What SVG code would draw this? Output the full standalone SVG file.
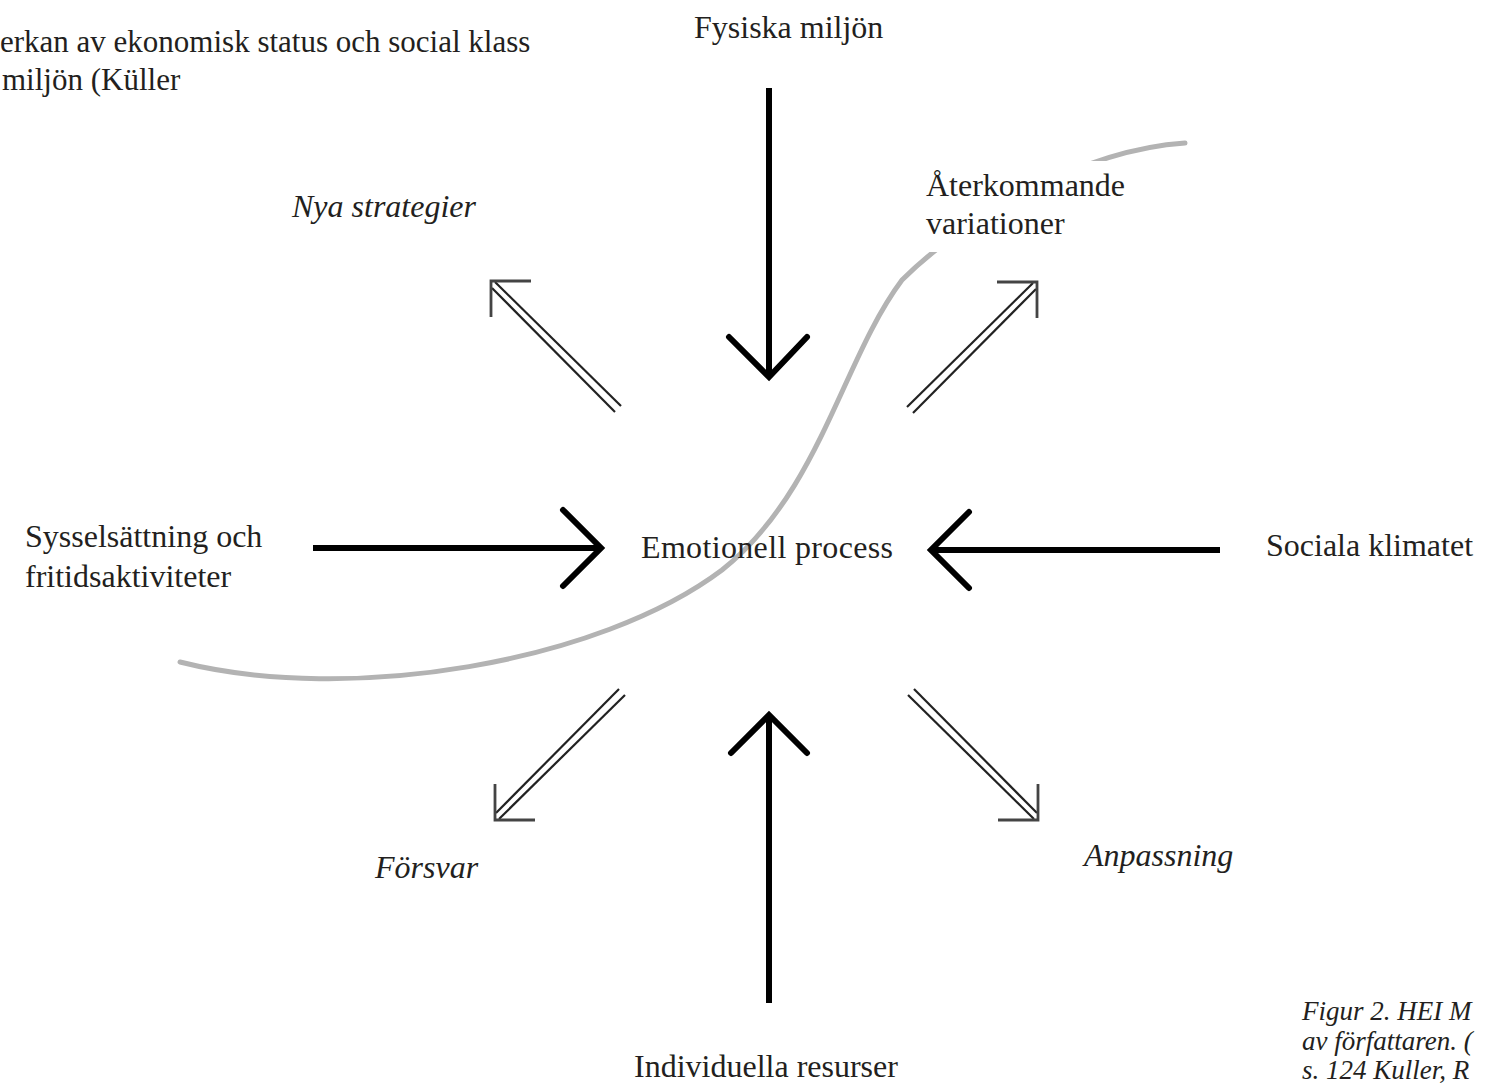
<svg xmlns="http://www.w3.org/2000/svg" width="1493" height="1086" viewBox="0 0 1493 1086">
<style>
.t{font-family:"Liberation Serif","Times New Roman",serif;font-size:32px;fill:#231f20}
.i{font-style:italic}
.cap{font-size:27px}
.top{font-size:31px}
.bold{stroke:#000;stroke-width:6;fill:none}
.chev{stroke:#000;stroke-width:6;fill:none;stroke-linecap:round;stroke-linejoin:miter}
.dl{stroke:#222;stroke-width:2.2;fill:none}
.hd{stroke:#444;stroke-width:2.8;fill:none}
.curve{stroke:#b3b3b3;stroke-width:5;fill:none;stroke-linecap:round}
</style>
<defs>
<g id="dbl">
<line class="dl" x1="-130" y1="125" x2="-4" y2="1"/>
<line class="dl" x1="-124" y1="131" x2="-1" y2="7"/>
<polyline class="hd" points="-40,0 0,0 0,36"/>
</g>
</defs>
<rect width="1493" height="1086" fill="#fff"/>
<g id="curve">
<path class="curve" d="M180,662 C350,705 600,662 722,570 C820,492 842,360 902,280 C962,220 1080,150 1185,143"/>
</g>
<g id="connectors">
<line class="bold" x1="769" y1="88" x2="769" y2="374"/>
<polyline class="chev" points="729,337 769,377 807,337"/>
<line class="bold" x1="769" y1="1003" x2="769" y2="718"/>
<polyline class="chev" points="731,753 769,715 807,753"/>
<line class="bold" x1="313" y1="548" x2="598" y2="548"/>
<polyline class="chev" points="563,510 601,548 563,586"/>
<line class="bold" x1="1220" y1="550" x2="934" y2="550"/>
<polyline class="chev" points="969,512 931,550 969,588"/>
<use href="#dbl" transform="translate(1037,282)"/>
<use href="#dbl" transform="translate(491,281) scale(-1,1)"/>
<use href="#dbl" transform="translate(495,820) scale(-1,-1)"/>
<use href="#dbl" transform="translate(1038,820) scale(1,-1)"/>
</g>
<g id="caption-top">
<text class="t top" x="0" y="52">erkan av ekonomisk status och social klass</text>
<text class="t top" x="2" y="90">miljön (Küller</text>
</g>
<g id="node-fysiska"><text class="t" x="694" y="38">Fysiska miljön</text></g>
<g id="node-nya"><text class="t i" x="292" y="217">Nya strategier</text></g>
<g id="node-aterkommande">
<rect x="912" y="161" width="240" height="91" fill="#fff"/>
<text class="t" x="926" y="196">Återkommande</text>
<text class="t" x="926" y="234">variationer</text>
</g>
<g id="node-syssel">
<text class="t" x="25" y="547">Sysselsättning och</text>
<text class="t" x="25" y="587">fritidsaktiviteter</text>
</g>
<g id="node-emotionell"><text class="t" x="641" y="558" textLength="252">Emotionell process</text></g>
<g id="node-sociala"><text class="t" x="1266" y="556">Sociala klimatet</text></g>
<g id="node-forsvar"><text class="t i" x="375" y="878">Försvar</text></g>
<g id="node-anpassning"><text class="t i" x="1084" y="866">Anpassning</text></g>
<g id="node-individuella"><text class="t" x="634" y="1077">Individuella resurser</text></g>
<g id="caption-bottom">
<text class="t i cap" x="1302" y="1020">Figur 2. HEI M</text>
<text class="t i cap" x="1302" y="1050">av författaren. (</text>
<text class="t i cap" x="1302" y="1079">s. 124 Kuller, R</text>
</g>
</svg>
